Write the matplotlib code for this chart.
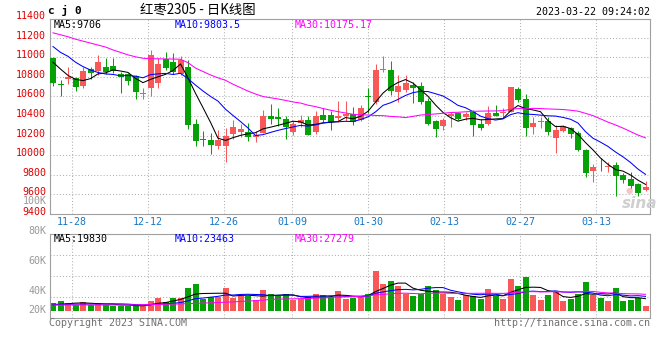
import matplotlib
matplotlib.use('Agg')
import matplotlib.pyplot as plt
import matplotlib.transforms as mtrans
import numpy as np
import pandas as pd

plt.rcParams['font.family'] = ['DejaVu Sans Mono', 'Noto Sans CJK SC']
plt.rcParams['font.size'] = 7.2

# daily candles 2022-11-23 .. 2023-03-22
opens = [10990, 10730, 10776, 10786, 10710, 10885, 10863, 10905, 10912, 10830,
         10827, 10805, 10630, 10690, 10738, 10978, 10953, 10830, 10905, 10320,
         10160, 10158, 10097, 10097, 10220, 10233, 10240, 10186, 10230, 10403,
         10386, 10373, 10240, 10332, 10363, 10233, 10414, 10414, 10376, 10404,
         10420, 10355, 10605, 10548, 10875, 10871, 10650, 10667, 10718, 10708,
         10555, 10351, 10300, 10402, 10429, 10395, 10446, 10320, 10324, 10436,
         10430, 10445, 10676, 10573, 10284, 10335, 10352, 10176, 10250, 10274,
         10230, 10053, 9842, 9890, 9884, 9900, 9798, 9754, 9703, 9649]
highs = [11000, 10770, 10900, 10802, 10905, 10905, 11025, 10990, 10990, 10853,
         10843, 10820, 10690, 11078, 10995, 11057, 11040, 11010, 10975, 10370,
         10250, 10230, 10261, 10280, 10356, 10322, 10332, 10250, 10458, 10526,
         10482, 10397, 10350, 10410, 10397, 10454, 10482, 10448, 10556, 10550,
         10497, 10510, 10690, 10932, 11014, 10963, 10820, 10820, 10745, 10745,
         10582, 10355, 10378, 10446, 10440, 10446, 10463, 10368, 10504, 10511,
         10480, 10700, 10700, 10624, 10393, 10393, 10393, 10308, 10308, 10291,
         10247, 10060, 9907, 9968, 9934, 9927, 9815, 9832, 9713, 9737]
lows = [10710, 10600, 10731, 10659, 10690, 10780, 10820, 10827, 10837, 10635,
        10717, 10570, 10570, 10605, 10690, 10870, 10830, 10820, 10268, 10090,
        10090, 10015, 10067, 9927, 10169, 10186, 10148, 10131, 10225, 10322,
        10295, 10165, 10210, 10288, 10205, 10213, 10335, 10254, 10335, 10345,
        10310, 10350, 10430, 10521, 10850, 10617, 10548, 10650, 10531, 10521,
        10310, 10188, 10259, 10293, 10360, 10361, 10201, 10259, 10310, 10400,
        10380, 10440, 10541, 10196, 10216, 10281, 10206, 10026, 10240, 10179,
        10043, 9774, 9730, 9839, 9832, 9587, 9720, 9635, 9584, 9635]
closes = [10735, 10715, 10802, 10700, 10860, 10835, 10955, 10853, 10855, 10802,
          10762, 10650, 10636, 11023, 10932, 10888, 10845, 10970, 10310, 10150,
          10152, 10100, 10155, 10199, 10290, 10271, 10182, 10208, 10396, 10375,
          10365, 10284, 10316, 10363, 10210, 10403, 10363, 10336, 10403, 10420,
          10340, 10487, 10592, 10871, 10882, 10660, 10708, 10742, 10691, 10548,
          10320, 10266, 10361, 10422, 10371, 10422, 10310, 10283, 10436, 10402,
          10440, 10699, 10560, 10281, 10332, 10352, 10240, 10257, 10298, 10216,
          10053, 9822, 9883, 9885, 9890, 9788, 9744, 9686, 9618, 9676]
volumes = [12650, 15950, 12650, 9350, 14300, 9350, 12650, 9350, 8250, 8250,
           8250, 8250, 7700, 15950, 20900, 14300, 20900, 20900, 37400, 44000,
           18700, 22000, 22000, 37400, 20900, 23650, 24200, 17600, 34100, 27500,
           24200, 27500, 17600, 18700, 22000, 27500, 25300, 22000, 32450, 19250,
           21450, 23650, 27500, 66000, 44550, 48950, 40700, 27500, 24200, 27500,
           40700, 34100, 27500, 22550, 17600, 25850, 23650, 19800, 35750, 23650,
           19800, 52250, 40700, 55550, 25850, 17600, 25850, 30800, 16500, 18700,
           27500, 47300, 25850, 20900, 15950, 37400, 15950, 17600, 20350, 7700]

# moving-average values at the left edge (history before the first candle)
ma5_head = [10950, 10880, 10815, 10775]
ma10_head = [11110, 11050, 11010, 10950, 10905, 10870, 10845, 10830, 10825]
ma30_head = [11250, 11230, 11210, 11185, 11165, 11145, 11125, 11105, 11075, 11050,
             11025, 11005, 10990, 10985, 10985, 10983, 10982, 10980, 10945, 10890,
             10855, 10820, 10790, 10765, 10725, 10690, 10655, 10625, 10600]
vma5_head = [9500, 10500, 11500, 12500]
vma10_head = [10500, 10600, 10700, 10800, 10900, 11000, 11100, 11200, 11300]
vma30_head = [9400] * 10 + [9500, 9600, 9800, 10000, 10300, 10600, 10900, 11200, 11700,
                            12200, 12600, 13000, 13500, 14000, 14600, 15200, 15900, 16600, 17400]

date_labels = ['11-28', '12-12', '12-26', '01-09', '01-30', '02-13', '02-27', '03-13']
date_index = [3, 13, 23, 32, 42, 52, 62, 72]
price_labels = [9400, 9600, 9800, 10000, 10200, 10400, 10600, 10800, 11000, 11200, 11400]
vol_labels = ['100K', '80K', '60K', '40K', '20K']

price_legend = ['MA5:9706', 'MA10:9803.5', 'MA30:10175.17']
vol_legend = ['MA5:19830', 'MA10:23463', 'MA30:27279']

RED = '#f85858'
GREEN = '#06a106'
MA_COLORS = ['black', '#0000ff', '#ff00ff']
FRAME = '#a0a0a0'
GRID = '#b0b0b0'
W, H = 660, 360


def rect(l, t, r, b):
    return [l / W, 1 - b / H, (r - l) / W, (b - t) / H]


def moving_avg(values, n, head):
    s = pd.Series(values, dtype=float).rolling(n).mean().to_numpy()
    s[:n - 1] = head
    return s


def px(x, y):
    return x / W, 1 - y / H


o = np.array(opens)
c = np.array(closes)
x = np.arange(len(o))
colors = np.where(c >= o, RED, GREEN)
# the date grid runs on a slightly wider step than the candles
grid_x = 2.53 + (np.array(date_index) - 3) * (7.6 / 7.5)

fig = plt.figure(figsize=(6.6, 3.6), dpi=100)
ax = fig.add_axes(rect(50, 19, 650, 214))
axv = fig.add_axes(rect(50, 234.3, 650, 317.7))

for a in (ax, axv):
    a.set_xlim(-0.4, 79.6)
    a.set_xticks([])
    a.set_yticks([])
    for s in a.spines.values():
        s.set_color(FRAME)
        s.set_linewidth(0.8)
    for g in grid_x:
        a.axvline(g, color=GRID, lw=0.75, ls=(0, (1, 2)), zorder=0)

# price panel
ax.set_ylim(9400, 11391)
for p in price_labels[1:-1]:
    ax.axhline(p, color=GRID, lw=0.75, ls=(0, (1, 2)), zorder=0)
ax.vlines(x, lows, highs, colors=colors, lw=0.75, zorder=2)
ax.bar(x, np.maximum(np.abs(c - o), 9), bottom=np.minimum(o, c), width=0.8,
       color=colors, linewidth=0, zorder=3)
for n, head, col in zip([5, 10, 30], [ma5_head, ma10_head, ma30_head], MA_COLORS):
    ax.plot(x, moving_avg(closes, n, head), color=col, lw=0.75, zorder=4)

lab_tr = mtrans.offset_copy(mtrans.blended_transform_factory(ax.transAxes, ax.transData),
                            fig=fig, x=0, y=2, units='dots')
for p in price_labels:
    ax.text(-0.0067, p, str(p), transform=lab_tr, ha='right', va='center',
            color='#e00000', clip_on=False)

date_tr = mtrans.blended_transform_factory(ax.transData, ax.transAxes)
for g, lab in zip(grid_x, date_labels):
    ax.text(g, -0.04, lab, transform=date_tr, ha='center', va='center', color='#1777c4')

for lab, xp, col in zip(price_legend, [54, 175, 295], MA_COLORS):
    fig.text(*px(xp, 24.5), lab, color=col, va='center')

# sina watermark in the lower right of the price panel
fig.text(*px(629, 191), '●', ha='center', va='center', fontsize=6, color='#f6c4c4',
         family=['DejaVu Sans'])
fig.text(*px(640, 203), 'sina', ha='center', va='center', fontsize=11, color='#cfcfcf',
         family=['DejaVu Sans'], fontweight='bold', style='italic')

# volume panel
axv.set_ylim(-11550, 126060)
for f in (0.25, 0.5, 0.75):
    axv.plot([0, 1], [f, f], transform=axv.transAxes, color=GRID, lw=0.75,
             ls=(0, (1, 2)), zorder=0)
axv.bar(x, volumes, width=0.8, color=colors, linewidth=0, zorder=2)
for n, head, col in zip([5, 10, 30], [vma5_head, vma10_head, vma30_head], MA_COLORS):
    axv.plot(x, moving_avg(volumes, n, head), color=col, lw=0.75, zorder=3)

for lab, yp in zip(vol_labels, [201.5, 230.7, 260.7, 290.7, 310]):
    fig.text(*px(46.5, yp), lab, ha='right', va='center', color='#999999')
for lab, xp, col in zip(vol_legend, [54, 175, 295], MA_COLORS):
    fig.text(*px(xp, 238.5), lab, color=col, va='center')

# header and footer
fig.text(*px(48, 10), 'c j 0', fontweight='bold', fontsize=8.0, va='center')
fig.text(*px(140, 10), '红枣2305 - 日K线图', family=['Noto Sans CJK SC'], fontsize=9.6,
         va='center')
fig.text(*px(650, 12), '2023-03-22 09:24:02', ha='right', va='center')
fig.text(*px(49, 323.5), 'Copyright 2023 SINA.COM', va='center', color='#707070')
fig.text(*px(650, 323.5), 'http://finance.sina.com.cn', ha='right', va='center',
         color='#707070')

fig.savefig('out.png', dpi=100, facecolor='white')
